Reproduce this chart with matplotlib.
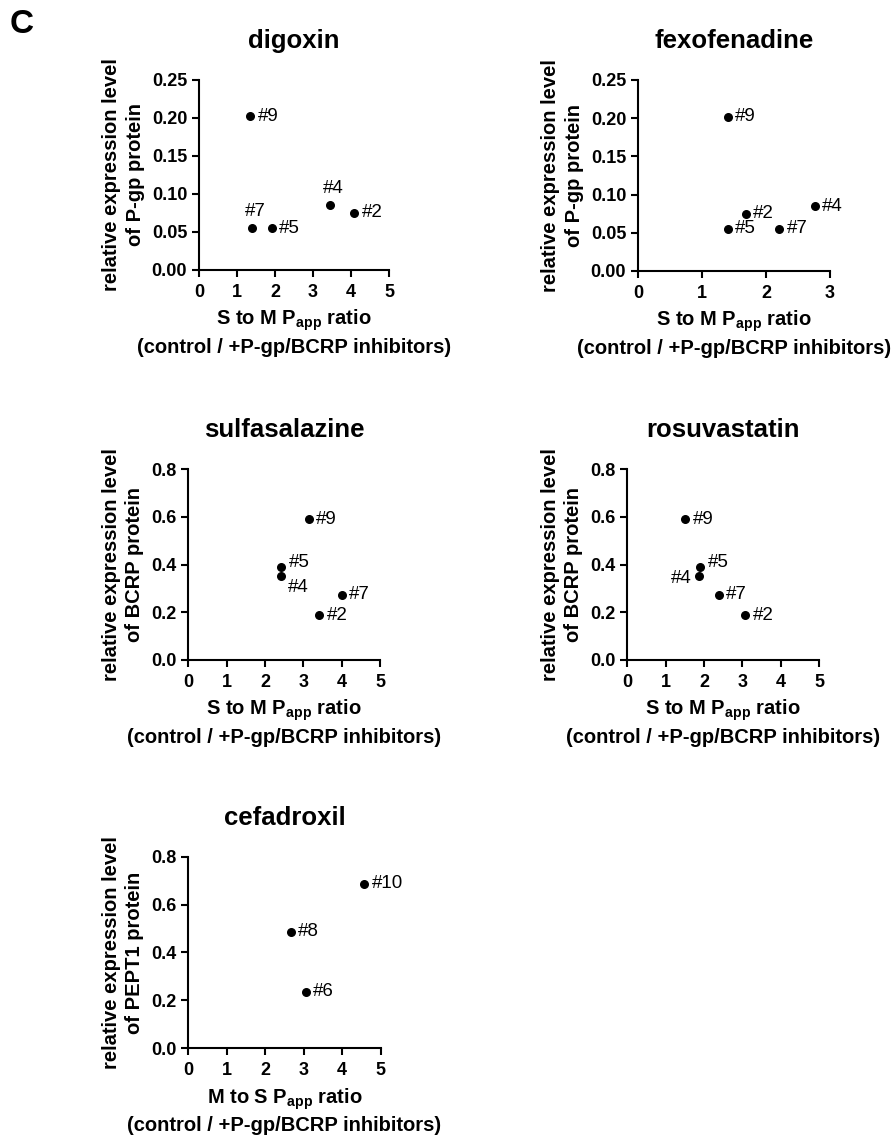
import numpy as np
import matplotlib
matplotlib.use('Agg')
import matplotlib.pyplot as plt
from matplotlib.ticker import FormatStrFormatter

plt.rcParams['font.family'] = ['Liberation Sans', 'DejaVu Sans']
plt.rcParams['mathtext.fontset'] = 'custom'
plt.rcParams['mathtext.rm'] = 'Liberation Sans:bold'
plt.rcParams['mathtext.bf'] = 'Liberation Sans:bold'

# data
dig_x = [1.34, 1.40, 1.91, 3.45, 4.09]
dig_y = [0.202, 0.055, 0.055, 0.085, 0.075]
dig_lab = ['#9', '#7', '#5', '#4', '#2']

fex_x = [1.40, 1.68, 1.40, 2.20, 2.76]
fex_y = [0.202, 0.075, 0.055, 0.055, 0.085]
fex_lab = ['#9', '#2', '#5', '#7', '#4']

sul_x = [3.14, 2.42, 2.42, 4.00, 3.41]
sul_y = [0.590, 0.390, 0.352, 0.273, 0.187]
sul_lab = ['#9', '#5', '#4', '#7', '#2']

ros_x = [1.51, 1.90, 1.87, 2.38, 3.08]
ros_y = [0.590, 0.390, 0.352, 0.273, 0.187]
ros_lab = ['#9', '#5', '#4', '#7', '#2']

cef_x = [4.57, 2.66, 3.05]
cef_y = [0.686, 0.487, 0.236]
cef_lab = ['#10', '#8', '#6']

# label placement: 'r' right, 'u' above, 'dr' below-right, 'l' left, 'ur' up-right
dig_pos = ['r', 'u', 'r', 'u', 'r']
fex_pos = ['r', 'r', 'r', 'r', 'r']
sul_pos = ['r', 'ur', 'dr', 'r', 'r']
ros_pos = ['r', 'ur', 'l', 'r', 'r']
cef_pos = ['r', 'r', 'r']

place = {
    'r': ((5.5, 0), 'left', 'center'),
    'ur': ((5.5, 3), 'left', 'center'),
    'u': ((2, 6), 'center', 'bottom'),
    'dr': ((5, -8), 'left', 'center'),
    'l': ((-5.5, -1.5), 'right', 'center'),
}

xlab_sm = 'S to M P$_{\\mathbf{app}}$ ratio\n(control / +P-gp/BCRP inhibitors)'
xlab_ms = 'M to S P$_{\\mathbf{app}}$ ratio\n(control / +P-gp/BCRP inhibitors)'

fig = plt.figure(figsize=(8.96, 11.42), dpi=100)


def panel(rect, xs, ys, labs, pos, title, ylab, xlab, xmax, ymax, ystep, yfmt):
    ax = fig.add_axes(rect)
    ax.scatter(xs, ys, s=30, color='black', zorder=3, clip_on=False)
    for x, y, t, p in zip(xs, ys, labs, pos):
        off, ha, va = place[p]
        ax.annotate(t, (x, y), xytext=off, textcoords='offset points',
                    ha=ha, va=va, fontsize=13.5)
    ax.set_xlim(0, xmax)
    ax.set_ylim(0, ymax)
    ax.set_xticks(np.arange(0, xmax + 0.5, 1))
    ax.set_yticks(np.arange(0, ymax + ystep / 2, ystep))
    ax.yaxis.set_major_formatter(FormatStrFormatter(yfmt))
    for s in ['top', 'right']:
        ax.spines[s].set_visible(False)
    for s in ['left', 'bottom']:
        ax.spines[s].set_linewidth(1.5)
    ax.tick_params(width=1.5, length=5, labelsize=13)
    ax.tick_params(axis='x', pad=5)
    for lb in ax.get_xticklabels() + ax.get_yticklabels():
        lb.set_fontweight('bold')
    ax.set_title(title, fontsize=18.5, fontweight='bold', pad=23)
    ax.set_ylabel(ylab, fontsize=14.5, fontweight='bold', labelpad=5, linespacing=1.3)
    ax.set_xlabel(xlab, fontsize=14.5, fontweight='bold', labelpad=5, linespacing=1.3)
    return ax


panel([0.2221, 0.7636, 0.2121, 0.1664], dig_x, dig_y, dig_lab, dig_pos, 'digoxin',
      'relative expression level\nof P-gp protein', xlab_sm, 5, 0.25, 0.05, '%.2f')
panel([0.7121, 0.7627, 0.2143, 0.1673], fex_x, fex_y, fex_lab, fex_pos, 'fexofenadine',
      'relative expression level\nof P-gp protein', xlab_sm, 3, 0.25, 0.05, '%.2f')
panel([0.2102, 0.4221, 0.2140, 0.1670], sul_x, sul_y, sul_lab, sul_pos, 'sulfasalazine',
      'relative expression level\nof BCRP protein', xlab_sm, 5, 0.8, 0.2, '%.1f')
panel([0.7001, 0.4221, 0.2140, 0.1670], ros_x, ros_y, ros_lab, ros_pos, 'rosuvastatin',
      'relative expression level\nof BCRP protein', xlab_sm, 5, 0.8, 0.2, '%.1f')
panel([0.2102, 0.0820, 0.2146, 0.1679], cef_x, cef_y, cef_lab, cef_pos, 'cefadroxil',
      'relative expression level\nof PEPT1 protein', xlab_ms, 5, 0.8, 0.2, '%.1f')

fig.text(0.011, 0.971, 'C', fontsize=24, fontweight='bold', va='baseline')

fig.savefig('out.png', dpi=100)
